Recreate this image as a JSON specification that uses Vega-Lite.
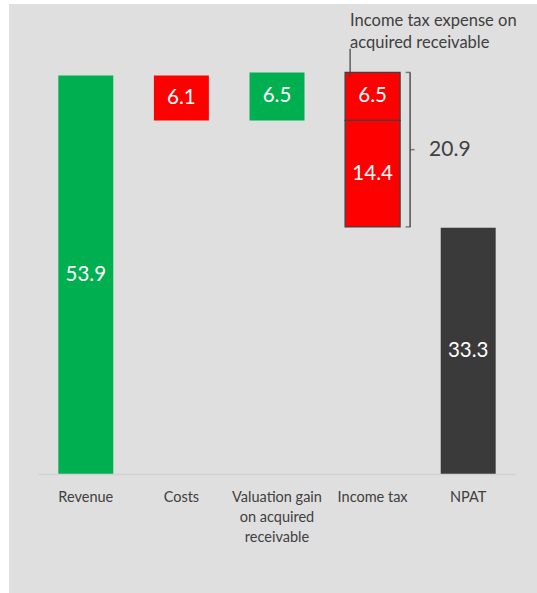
{
  "$schema": "https://vega.github.io/schema/vega-lite/v6.json",
  "width": 528,
  "height": 589,
  "padding": {"left": 9, "top": 4, "right": 0, "bottom": 0},
  "autosize": {"type": "none"},
  "background": "white",
  "config": {"view": {"fill": "#dfdfdf", "stroke": null}, "font": "Lato"},
  "datasets": {
    "bars": [
      {"cat": "Revenue", "seg": "a", "start": 0, "end": 53.9, "kind": "gain", "label": "53.9"},
      {"cat": "Costs", "seg": "a", "start": 53.9, "end": 47.8, "kind": "loss", "label": "6.1"},
      {"cat": "Valuation gain on acquired receivable", "seg": "a", "start": 47.8, "end": 54.3, "kind": "gain", "label": "6.5"},
      {"cat": "Income tax", "seg": "a", "start": 54.3, "end": 47.8, "kind": "loss", "label": "6.5"},
      {"cat": "Income tax", "seg": "b", "start": 47.8, "end": 33.4, "kind": "loss", "label": "14.4"},
      {"cat": "NPAT", "seg": "a", "start": 0, "end": 33.3, "kind": "total", "label": "33.3"}
    ],
    "bracket": [
      {"cat": "Income tax", "top": 54.3, "bottom": 33.4, "mid": 43.85, "total": "20.9"}
    ],
    "note": [
      {"cat": "Income tax", "textY": 60.6, "lineTop": 57.5, "lineBottom": 53.7, "text": "Income tax expense on\nacquired receivable"}
    ]
  },
  "layer": [
    {
      "data": {"name": "bars"},
      "mark": {"type": "bar", "stroke": "#404040"},
      "encoding": {
        "x": {
          "field": "cat", "type": "nominal", "sort": null, "title": null,
          "scale": {
            "domain": ["Revenue", "Costs", "Valuation gain on acquired receivable", "Income tax", "NPAT"],
            "range": [29, 507], "paddingInner": 0.425, "paddingOuter": 0.2125
          },
          "axis": {
            "orient": "bottom", "offset": -119, "ticks": false, "labelAngle": 0,
            "domainColor": "#d2d2d2", "domainWidth": 1.5,
            "labelColor": "#404040", "labelFont": "Lato", "labelFontSize": 14.5,
            "labelPadding": 16, "labelLineHeight": 20.2, "labelBaseline": "top",
            "labelOverlap": false, "labelLimit": 200,
            "labelExpr": "datum.label == 'Valuation gain on acquired receivable' ? ['Valuation gain', 'on acquired', 'receivable'] : datum.label"
          }
        },
        "y": {"field": "start", "type": "quantitative", "scale": {"domain": [-16.14, 63.56], "nice": false, "zero": false}, "axis": null},
        "y2": {"field": "end"},
        "color": {"field": "kind", "type": "nominal", "scale": {"domain": ["gain", "loss", "total"], "range": ["#00b050", "#ff0000", "#3a3a3a"]}, "legend": null},
        "strokeWidth": {"condition": {"test": "datum.cat === 'Income tax'", "value": 1.3}, "value": 0}
      }
    },
    {
      "data": {"name": "bars"},
      "transform": [{"fold": ["start", "end"], "as": ["k", "v"]}],
      "mark": {"type": "text", "color": "white", "fontSize": 20.5, "baseline": "middle", "font": "Lato"},
      "encoding": {
        "x": {"field": "cat", "type": "nominal", "sort": null, "title": null},
        "y": {"aggregate": "mean", "field": "v", "type": "quantitative", "scale": {"domain": [-16.14, 63.56], "nice": false, "zero": false}},
        "detail": {"field": "seg"},
        "text": {"field": "label"}
      }
    },
    {
      "data": {"name": "note"},
      "mark": {"type": "rule", "color": "#404040", "strokeWidth": 1.2, "xOffset": -22.5},
      "encoding": {
        "x": {"field": "cat", "type": "nominal", "sort": null, "title": null},
        "y": {"field": "lineTop", "type": "quantitative", "scale": {"domain": [-16.14, 63.56], "nice": false, "zero": false}},
        "y2": {"field": "lineBottom"}
      }
    },
    {
      "data": {"name": "note"},
      "mark": {"type": "text", "color": "#404040", "fontSize": 16.5, "align": "left", "baseline": "alphabetic", "lineBreak": "\n", "lineHeight": 22.5, "xOffset": -22.5, "font": "Lato"},
      "encoding": {
        "x": {"field": "cat", "type": "nominal", "sort": null, "title": null},
        "y": {"field": "textY", "type": "quantitative", "scale": {"domain": [-16.14, 63.56], "nice": false, "zero": false}},
        "text": {"field": "text"}
      }
    },
    {
      "data": {"name": "bracket"},
      "mark": {"type": "rule", "color": "#505050", "strokeWidth": 1.5, "xOffset": 37.5},
      "encoding": {
        "x": {"field": "cat", "type": "nominal", "sort": null, "title": null},
        "y": {"field": "top", "type": "quantitative", "scale": {"domain": [-16.14, 63.56], "nice": false, "zero": false}},
        "y2": {"field": "bottom"}
      }
    },
    {
      "data": {"name": "bracket"},
      "transform": [{"fold": ["top", "bottom"], "as": ["end", "val"]}],
      "mark": {"type": "tick", "orient": "horizontal", "color": "#505050", "size": 5, "thickness": 1.5, "xOffset": 35.5},
      "encoding": {
        "x": {"field": "cat", "type": "nominal", "sort": null, "title": null},
        "y": {"field": "val", "type": "quantitative", "scale": {"domain": [-16.14, 63.56], "nice": false, "zero": false}}
      }
    },
    {
      "data": {"name": "bracket"},
      "mark": {"type": "tick", "orient": "horizontal", "color": "#505050", "size": 4.5, "thickness": 1.5, "xOffset": 39.75},
      "encoding": {
        "x": {"field": "cat", "type": "nominal", "sort": null, "title": null},
        "y": {"field": "mid", "type": "quantitative", "scale": {"domain": [-16.14, 63.56], "nice": false, "zero": false}}
      }
    },
    {
      "data": {"name": "bracket"},
      "mark": {"type": "text", "color": "#404040", "fontSize": 21, "align": "left", "baseline": "middle", "xOffset": 56.5, "font": "Lato"},
      "encoding": {
        "x": {"field": "cat", "type": "nominal", "sort": null, "title": null},
        "y": {"field": "mid", "type": "quantitative", "scale": {"domain": [-16.14, 63.56], "nice": false, "zero": false}},
        "text": {"field": "total"}
      }
    }
  ]
}
